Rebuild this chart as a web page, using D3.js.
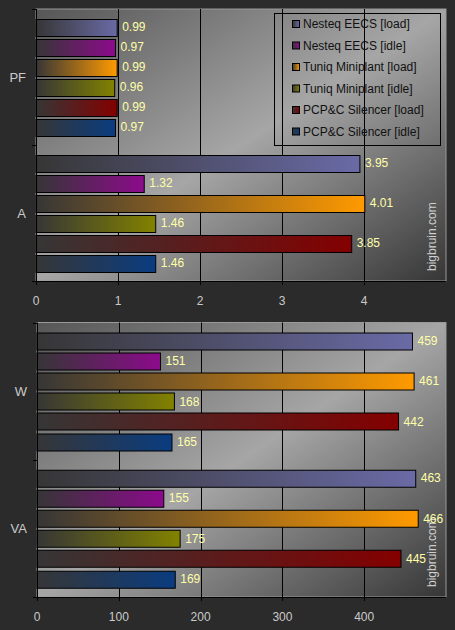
<!DOCTYPE html>
<html>
<head>
<meta charset="utf-8">
<script src="https://cdn.jsdelivr.net/npm/d3@7"></script>
<style>
  html, body { margin: 0; padding: 0; background: #2b2b2b; }
  svg { display: block; font-family: "Liberation Sans", Arial, sans-serif; }
</style>
</head>
<body>
<svg id="chart" width="455" height="630"></svg>
<script>
const series = [
    'Nesteq EECS [load]',
    'Nesteq EECS [idle]',
    'Tuniq Miniplant [load]',
    'Tuniq Miniplant [idle]',
    'PCP&C Silencer [load]',
    'PCP&C Silencer [idle]'
];
const seriesColors = ['#6a6aa6', '#8c0a8c', '#ff9a00', '#828200', '#840000', '#0a3c80'];

const topCategories = ['PF', 'A'];
const pfValues = [0.99, 0.97, 0.99, 0.96, 0.99, 0.97];
const aValues = [3.95, 1.32, 4.01, 1.46, 3.85, 1.46];
const topTicks = [0, 1, 2, 3, 4];

const bottomCategories = ['W', 'VA'];
const wValues = [459, 151, 461, 168, 442, 165];
const vaValues = [463, 155, 466, 175, 445, 169];
const bottomTicks = [0, 100, 200, 300, 400];

const svg = d3.select('#chart');
const defs = svg.append('defs');

// Bar gradients: dark on the left, full colour on the right
seriesColors.forEach((c, i) => {
    const grad = defs.append('linearGradient')
        .attr('id', 'bar-grad-' + i)
        .attr('x1', 0).attr('y1', 0).attr('x2', 1).attr('y2', 0);
    grad.append('stop').attr('offset', '0%').attr('stop-color', '#363636');
    grad.append('stop').attr('offset', '100%').attr('stop-color', c);
});

// Plot area background
const bg = defs.append('linearGradient')
    .attr('id', 'plot-bg')
    .attr('x1', 0).attr('y1', 0).attr('x2', 1).attr('y2', 1);
bg.append('stop').attr('offset', '0%').attr('stop-color', '#565656');
bg.append('stop').attr('offset', '50%').attr('stop-color', '#a6a6a6');
bg.append('stop').attr('offset', '100%').attr('stop-color', '#363636');

function drawPanel(opts) {
    const g = svg.append('g');
    const x = d3.scaleLinear().domain(opts.domain).range([opts.left, opts.right]);
    const y = d3.scaleBand().domain(opts.categories).range([opts.top, opts.bottom]);
    const inner = d3.scaleBand().domain(series)
        .range([0, y.bandwidth()])
        .paddingInner(0.15)
        .paddingOuter(0.475);

    // Background
    g.append('rect')
        .attr('x', opts.left)
        .attr('y', opts.top)
        .attr('width', opts.right - opts.left)
        .attr('height', opts.bottom - opts.top)
        .attr('fill', 'url(#plot-bg)')
        .attr('stroke', '#9a9a9a')
        .attr('stroke-width', 1);

    // Vertical grid lines
    g.selectAll('.grid')
        .data(opts.ticks.slice(1))
        .join('line')
        .attr('class', 'grid')
        .attr('x1', d => Math.round(x(d)) + 0.5)
        .attr('x2', d => Math.round(x(d)) + 0.5)
        .attr('y1', opts.top)
        .attr('y2', opts.bottom)
        .attr('stroke', '#000')
        .attr('stroke-width', 1);

    // Watermark
    g.append('text')
        .attr('transform', `translate(${opts.right - 10},${opts.bottom - 10}) rotate(-90)`)
        .attr('fill', '#cfcfcf')
        .style('font-size', '12px')
        .text('bigbruin.com');

    // Bars
    opts.categories.forEach((cat, ci) => {
        const values = opts.values[ci];
        const bars = g.append('g')
            .attr('transform', `translate(0,${y(cat)})`);

        bars.selectAll('rect')
            .data(values)
            .join('rect')
            .attr('x', x(0))
            .attr('y', (d, i) => Math.round(inner(series[i])) + 0.5)
            .attr('width', d => x(d) - x(0))
            .attr('height', Math.round(inner.bandwidth()))
            .attr('fill', (d, i) => `url(#bar-grad-${i})`)
            .attr('stroke', '#000')
            .attr('stroke-width', 1);

        bars.selectAll('text')
            .data(values)
            .join('text')
            .attr('x', d => x(d) + 5)
            .attr('y', (d, i) => inner(series[i]) + inner.bandwidth() / 2)
            .attr('dy', '0.36em')
            .attr('fill', '#ffffa8')
            .style('font-size', '12px')
            .text(d => opts.format(d));
    });

    // Left axis
    g.append('line')
        .attr('x1', opts.left + 0.5).attr('x2', opts.left + 0.5)
        .attr('y1', opts.top).attr('y2', opts.bottom)
        .attr('stroke', '#000');
    const boundaries = opts.categories.map(c => y(c)).concat([opts.bottom]);
    g.selectAll('.ytick')
        .data(boundaries)
        .join('line')
        .attr('class', 'ytick')
        .attr('x1', opts.left - 4).attr('x2', opts.left)
        .attr('y1', d => Math.round(d) + 0.5)
        .attr('y2', d => Math.round(d) + 0.5)
        .attr('stroke', '#000');

    g.selectAll('.cat-label')
        .data(opts.categories)
        .join('text')
        .attr('class', 'cat-label')
        .attr('x', opts.left - 10)
        .attr('y', d => y(d) + y.bandwidth() / 2)
        .attr('dy', '0.36em')
        .attr('text-anchor', 'end')
        .attr('fill', '#cacaca')
        .style('font-size', '13px')
        .text(d => d);

    // Bottom axis
    g.append('line')
        .attr('x1', opts.left - 4).attr('x2', opts.right)
        .attr('y1', opts.bottom + 0.5).attr('y2', opts.bottom + 0.5)
        .attr('stroke', '#000');
    g.selectAll('.xtick')
        .data(opts.ticks)
        .join('line')
        .attr('class', 'xtick')
        .attr('x1', d => Math.round(x(d)) + 0.5)
        .attr('x2', d => Math.round(x(d)) + 0.5)
        .attr('y1', opts.bottom)
        .attr('y2', opts.bottom + 4)
        .attr('stroke', '#000');
    g.selectAll('.xlabel')
        .data(opts.ticks)
        .join('text')
        .attr('class', 'xlabel')
        .attr('x', d => x(d))
        .attr('y', opts.bottom + 24)
        .attr('text-anchor', 'middle')
        .attr('fill', '#cacaca')
        .style('font-size', '12px')
        .text(d => d);

    return g;
}

const topPanel = drawPanel({
    categories: topCategories,
    values: [pfValues, aValues],
    domain: [0, 5],
    ticks: topTicks,
    left: 36, right: 446, top: 9, bottom: 281,
    format: d3.format('.2f')
});

drawPanel({
    categories: bottomCategories,
    values: [wValues, vaValues],
    domain: [0, 500],
    ticks: bottomTicks,
    left: 37, right: 446, top: 322.5, bottom: 597,
    format: d3.format('d')
});

// Legend
const legend = topPanel.append('g');
legend.append('rect')
    .attr('x', 274.5).attr('y', 13.5)
    .attr('width', 166).attr('height', 132)
    .attr('fill', 'none')
    .attr('stroke', '#000');

const legendY = d3.scalePoint().domain(series).range([24, 131.5]);
const items = legend.selectAll('.item')
    .data(series)
    .join('g')
    .attr('class', 'item')
    .attr('transform', d => `translate(0,${legendY(d)})`);

items.append('rect')
    .attr('x', 292.5).attr('y', -3.5)
    .attr('width', 7).attr('height', 7)
    .attr('fill', (d, i) => `url(#bar-grad-${i})`)
    .attr('stroke', '#000');

items.append('text')
    .attr('x', 303)
    .attr('dy', '0.36em')
    .attr('fill', '#111')
    .style('font-size', '12px')
    .text(d => d);
</script>
</body>
</html>
